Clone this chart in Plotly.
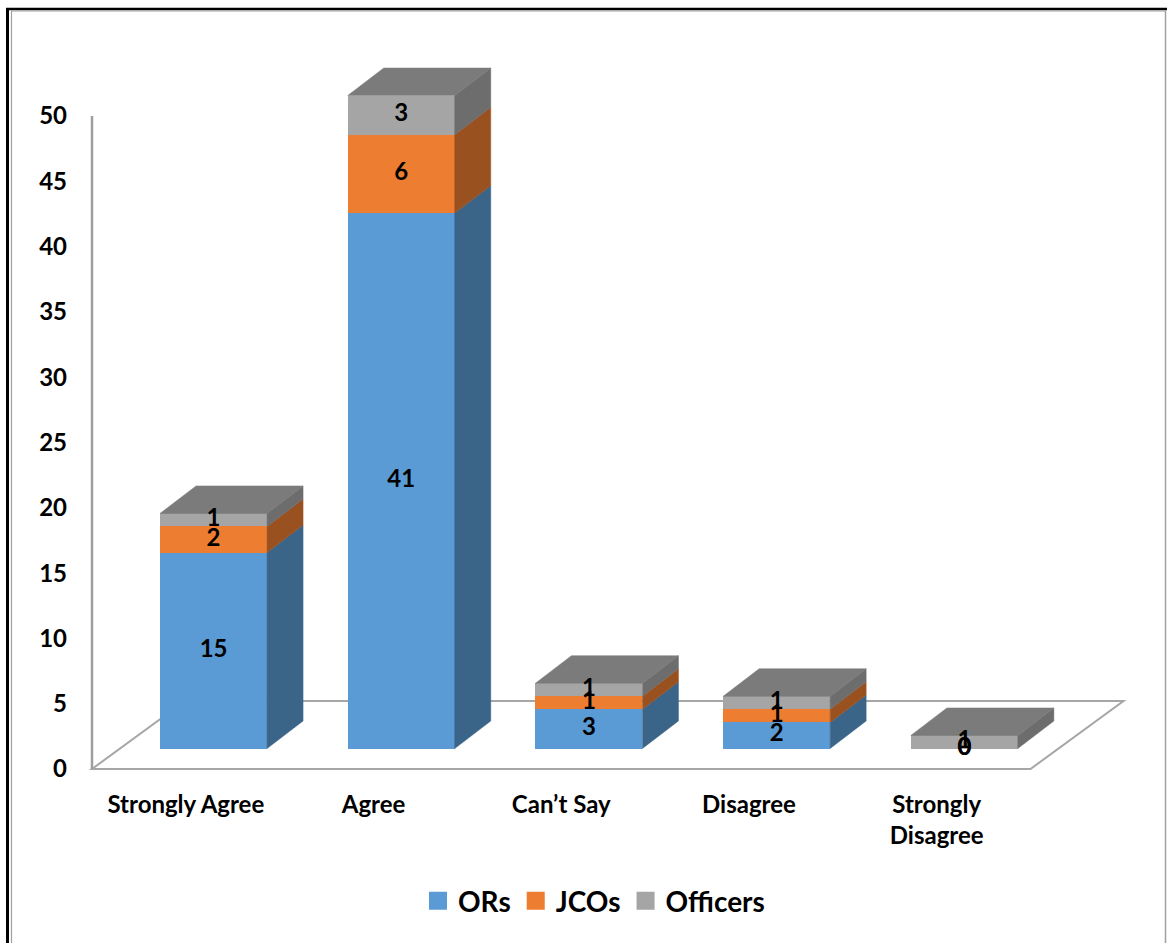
import numpy as np
import plotly.graph_objects as go

# ---------------- data ----------------
categories = ["Strongly Agree", "Agree", "Can’t Say", "Disagree", "Strongly Disagree"]
category_labels = ["Strongly Agree", "Agree", "Can’t Say", "Disagree", "Strongly<br>Disagree"]
series_names = ["ORs", "JCOs", "Officers"]
ors = [15, 41, 3, 2, 0]
jcos = [2, 6, 1, 1, 0]
officers = [1, 3, 1, 1, 1]
y_tick_values = [0, 5, 10, 15, 20, 25, 30, 35, 40, 45, 50]

# ---------------- style ----------------
FRONT = ["#5B9BD5", "#ED7D31", "#A5A5A5"]
SIDE = ["#3B6489", "#9A5120", "#6D6D6D"]
TOP = ["#4A7DAE", "#C0662A", "#7B7B7B"]
AXIS_GRAY = "#A6A6A6"
FONT = dict(family="Lato", size=24, color="black", weight="bold")

W, H = 1167, 943
L, R, T, B = 80, 1147, 30, 775          # plot box in pixels
CAT_PX = 187.7                          # pixels per category
UNIT_PX = 13.06                         # pixels per value unit
X0_PX, Y0_PX = 92, 769                  # front-left floor corner

x_range = np.array([(L - X0_PX) / CAT_PX - 0.5, (R - X0_PX) / CAT_PX - 0.5])
y_range = np.array([(Y0_PX - B) / UNIT_PX, (Y0_PX - T) / UNIT_PX])

BAR_SHIFT_X = 27.7 / CAT_PX             # bars sit behind the front of the floor
BAR_SHIFT_Y = 20.5 / UNIT_PX
BAR_W = 107 / CAT_PX
DX = 36 / CAT_PX                        # bar depth (oblique projection)
DY = 27.5 / UNIT_PX
FLOOR_DX = 93 / CAT_PX
FLOOR_DY = 68 / UNIT_PX

x2_range = x_range - BAR_SHIFT_X
y2_range = y_range - BAR_SHIFT_Y


def px_to_paper_x(px):
    return (px - L) / (R - L)


def px_to_paper_y(py):
    return (B - py) / (B - T)


values = np.array([ors, jcos, officers], dtype=float)
bottoms = np.vstack([np.zeros(len(categories)), np.cumsum(values, axis=0)[:-1]])
tops = bottoms + values
idx = np.arange(len(categories))

fig = go.Figure()

# front faces
for k, name in enumerate(series_names):
    fig.add_trace(go.Bar(
        x=idx, y=values[k], name=name, width=BAR_W,
        marker=dict(color=FRONT[k], line=dict(width=0)),
        xaxis="x2", yaxis="y2", showlegend=False, hoverinfo="skip",
    ))

# side faces
for k, name in enumerate(series_names):
    xs, ys = [], []
    for i in idx:
        if values[k][i] <= 0:
            continue
        xr = i + BAR_W / 2
        b, t = bottoms[k][i], tops[k][i]
        xs += [xr, xr + DX, xr + DX, xr, xr, None]
        ys += [b, b + DY, t + DY, t, b, None]
    fig.add_trace(go.Scatter(
        x=xs, y=ys, mode="lines", fill="toself", fillcolor=SIDE[k],
        line=dict(color=SIDE[k], width=0.5), xaxis="x2", yaxis="y2",
        showlegend=False, hoverinfo="skip",
    ))

# top faces (coloured by the top-most non-empty series)
totals = tops[-1]
for k in range(len(series_names)):
    xs, ys = [], []
    for i in idx:
        nz = [j for j in range(len(series_names)) if values[j][i] > 0]
        if not nz or nz[-1] != k:
            continue
        xl, xr = i - BAR_W / 2, i + BAR_W / 2
        tt = totals[i]
        xs += [xl, xl + DX, xr + DX, xr, xl, None]
        ys += [tt, tt + DY, tt + DY, tt, tt, None]
    if xs:
        fig.add_trace(go.Scatter(
            x=xs, y=ys, mode="lines", fill="toself", fillcolor=TOP[k],
            line=dict(color=TOP[k], width=0.5), xaxis="x2", yaxis="y2",
            showlegend=False, hoverinfo="skip",
        ))

# data labels
for k in range(len(series_names)):
    fig.add_trace(go.Scatter(
        x=idx, y=(bottoms[k] + tops[k]) / 2, mode="text",
        text=[str(int(v)) for v in values[k]], textfont=FONT,
        xaxis="x2", yaxis="y2", showlegend=False, hoverinfo="skip",
    ))

# legend entries
for k, name in enumerate(series_names):
    fig.add_trace(go.Scatter(
        x=[None], y=[None], mode="markers", name=name,
        marker=dict(symbol="square", size=16, color=FRONT[k],
                    line=dict(color=FRONT[k], width=2)),
    ))

shapes = []
# floor
fx0, fx1 = -0.5, len(categories) - 0.5
shapes.append(dict(
    type="path", xref="x", yref="y", layer="below",
    path=f"M {fx0},0 L {fx1},0 L {fx1 + FLOOR_DX},{FLOOR_DY} L {fx0 + FLOOR_DX},{FLOOR_DY} Z",
    line=dict(color=AXIS_GRAY, width=2), fillcolor="rgba(0,0,0,0)",
))
# vertical axis line
shapes.append(dict(
    type="line", xref="x", yref="y", layer="below",
    x0=-0.5, x1=-0.5, y0=y_tick_values[0], y1=y_tick_values[-1],
    line=dict(color="#9E9E9E", width=2.5),
))
# outer frame
shapes += [
    dict(type="line", xref="paper", yref="paper",
         x0=px_to_paper_x(7.5), x1=px_to_paper_x(7.5),
         y0=px_to_paper_y(8), y1=px_to_paper_y(H + 5),
         line=dict(color="black", width=3)),
    dict(type="line", xref="paper", yref="paper",
         x0=px_to_paper_x(6), x1=px_to_paper_x(W + 5),
         y0=px_to_paper_y(9), y1=px_to_paper_y(9),
         line=dict(color="black", width=2.5)),
    dict(type="line", xref="paper", yref="paper",
         x0=px_to_paper_x(11.5), x1=px_to_paper_x(11.5),
         y0=px_to_paper_y(10.5), y1=px_to_paper_y(H + 5),
         line=dict(color="#A0A0A0", width=1.2)),
    dict(type="line", xref="paper", yref="paper",
         x0=px_to_paper_x(11), x1=px_to_paper_x(1166),
         y0=px_to_paper_y(11), y1=px_to_paper_y(11),
         line=dict(color="#A0A0A0", width=1.2)),
    dict(type="line", xref="paper", yref="paper",
         x0=px_to_paper_x(1165.5), x1=px_to_paper_x(1165.5),
         y0=px_to_paper_y(10.5), y1=px_to_paper_y(H + 5),
         line=dict(color="#A0A0A0", width=1.5)),
]

fig.update_layout(
    width=W, height=H,
    margin=dict(l=L, r=W - R, t=T, b=H - B),
    paper_bgcolor="white", plot_bgcolor="rgba(0,0,0,0)",
    barmode="stack", bargap=0,
    shapes=shapes,
    font=FONT,
    legend=dict(
        orientation="h", xanchor="center", yanchor="middle",
        x=px_to_paper_x(594), y=px_to_paper_y(901),
        font=dict(family="Lato", size=28, color="black", weight="bold"),
        itemwidth=30, bgcolor="rgba(0,0,0,0)", traceorder="normal",
    ),
    xaxis=dict(
        range=list(x_range), tickmode="array", tickvals=list(idx),
        ticktext=category_labels, showgrid=False, zeroline=False,
        showline=False, ticks="", tickfont=FONT, ticklabelstandoff=13,
        fixedrange=True,
    ),
    yaxis=dict(
        range=list(y_range), tickmode="array", tickvals=y_tick_values,
        showgrid=False, zeroline=False, showline=False, ticks="",
        tickfont=FONT, ticklabelstandoff=12, fixedrange=True,
    ),
    xaxis2=dict(range=list(x2_range), overlaying="x", visible=False, fixedrange=True),
    yaxis2=dict(range=list(y2_range), overlaying="y", visible=False, fixedrange=True),
)

fig.write_html("out.html")
